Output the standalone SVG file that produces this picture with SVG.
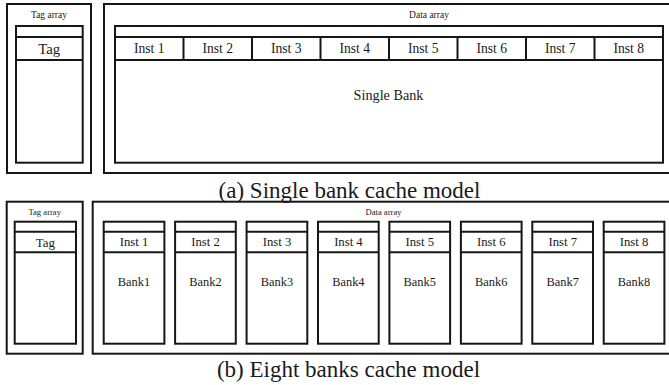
<svg xmlns="http://www.w3.org/2000/svg" width="669" height="385" viewBox="0 0 669 385" font-family="Liberation Serif">
  <style>
    rect, line { fill: none; stroke: #161616; stroke-width: 2; }
    rect.bg { fill: #fff; stroke: none; }
    text { fill: #1a1a1a; text-anchor: middle; }
  </style>
  <rect class="bg" x="0" y="0" width="669" height="385"/>

  <!-- (a) single bank model -->
  <g id="tag-array-a">
    <rect x="7" y="4" width="84" height="169"/>
    <text x="49" y="18" font-size="9.5">Tag array</text>
    <rect x="16" y="26" width="66.7" height="136.7"/>
    <line x1="16" y1="37" x2="82.7" y2="37"/>
    <line x1="16" y1="60" x2="82.7" y2="60"/>
    <text x="49.3" y="53.5" font-size="14.8">Tag</text>
  </g>
  <g id="data-array-a">
    <rect x="104" y="4" width="570" height="169"/>
    <text x="429" y="18" font-size="9.5">Data array</text>
    <rect x="115" y="26" width="548" height="136.7"/>
    <line x1="115" y1="37" x2="663" y2="37"/>
    <line x1="115" y1="60" x2="663" y2="60"/>
    <line x1="183.5" y1="37" x2="183.5" y2="60"/>
    <line x1="252" y1="37" x2="252" y2="60"/>
    <line x1="320.5" y1="37" x2="320.5" y2="60"/>
    <line x1="389" y1="37" x2="389" y2="60"/>
    <line x1="457.5" y1="37" x2="457.5" y2="60"/>
    <line x1="526" y1="37" x2="526" y2="60"/>
    <line x1="594.5" y1="37" x2="594.5" y2="60"/>
    <g font-size="13.6">
      <text x="149.3" y="53.2">Inst 1</text>
      <text x="217.8" y="53.2">Inst 2</text>
      <text x="286.3" y="53.2">Inst 3</text>
      <text x="354.8" y="53.2">Inst 4</text>
      <text x="423.3" y="53.2">Inst 5</text>
      <text x="491.8" y="53.2">Inst 6</text>
      <text x="560.3" y="53.2">Inst 7</text>
      <text x="628.8" y="53.2">Inst 8</text>
    </g>
    <text x="388.5" y="99.5" font-size="14.2">Single Bank</text>
  </g>
  <text x="349.5" y="197.5" font-size="23">(a) Single bank cache model</text>

  <!-- (b) eight bank model -->
  <g id="tag-array-b">
    <rect x="6.7" y="201.7" width="76" height="152"/>
    <text x="44.7" y="215" font-size="8.6">Tag array</text>
    <rect x="14.7" y="221.7" width="61.3" height="122"/>
    <line x1="14.7" y1="231.7" x2="76" y2="231.7"/>
    <line x1="14.7" y1="252.3" x2="76" y2="252.3"/>
    <text x="45.3" y="246.5" font-size="13">Tag</text>
  </g>
  <g id="data-array-b">
    <rect x="92.7" y="201.7" width="580" height="152"/>
    <text x="383.5" y="215" font-size="8.6">Data array</text>
  </g>
  <g id="bank1">
    <rect x="103.7" y="221.7" width="60.7" height="122"/>
    <line x1="103.7" y1="231.7" x2="164.4" y2="231.7"/>
    <line x1="103.7" y1="252.3" x2="164.4" y2="252.3"/>
    <text x="134" y="246.3" font-size="12.7">Inst 1</text>
    <text x="134" y="286.3" font-size="12.4">Bank1</text>
  </g>
  <g id="bank2">
    <rect x="175.1" y="221.7" width="60.7" height="122"/>
    <line x1="175.1" y1="231.7" x2="235.8" y2="231.7"/>
    <line x1="175.1" y1="252.3" x2="235.8" y2="252.3"/>
    <text x="205.5" y="246.3" font-size="12.7">Inst 2</text>
    <text x="205.5" y="286.3" font-size="12.4">Bank2</text>
  </g>
  <g id="bank3">
    <rect x="246.6" y="221.7" width="60.7" height="122"/>
    <line x1="246.6" y1="231.7" x2="307.3" y2="231.7"/>
    <line x1="246.6" y1="252.3" x2="307.3" y2="252.3"/>
    <text x="277" y="246.3" font-size="12.7">Inst 3</text>
    <text x="277" y="286.3" font-size="12.4">Bank3</text>
  </g>
  <g id="bank4">
    <rect x="318" y="221.7" width="60.7" height="122"/>
    <line x1="318" y1="231.7" x2="378.7" y2="231.7"/>
    <line x1="318" y1="252.3" x2="378.7" y2="252.3"/>
    <text x="348.4" y="246.3" font-size="12.7">Inst 4</text>
    <text x="348.4" y="286.3" font-size="12.4">Bank4</text>
  </g>
  <g id="bank5">
    <rect x="389.4" y="221.7" width="60.7" height="122"/>
    <line x1="389.4" y1="231.7" x2="450.1" y2="231.7"/>
    <line x1="389.4" y1="252.3" x2="450.1" y2="252.3"/>
    <text x="419.8" y="246.3" font-size="12.7">Inst 5</text>
    <text x="419.8" y="286.3" font-size="12.4">Bank5</text>
  </g>
  <g id="bank6">
    <rect x="460.9" y="221.7" width="60.7" height="122"/>
    <line x1="460.9" y1="231.7" x2="521.6" y2="231.7"/>
    <line x1="460.9" y1="252.3" x2="521.6" y2="252.3"/>
    <text x="491.2" y="246.3" font-size="12.7">Inst 6</text>
    <text x="491.2" y="286.3" font-size="12.4">Bank6</text>
  </g>
  <g id="bank7">
    <rect x="532.3" y="221.7" width="60.7" height="122"/>
    <line x1="532.3" y1="231.7" x2="593" y2="231.7"/>
    <line x1="532.3" y1="252.3" x2="593" y2="252.3"/>
    <text x="562.7" y="246.3" font-size="12.7">Inst 7</text>
    <text x="562.7" y="286.3" font-size="12.4">Bank7</text>
  </g>
  <g id="bank8">
    <rect x="603.7" y="221.7" width="60.7" height="122"/>
    <line x1="603.7" y1="231.7" x2="664.4" y2="231.7"/>
    <line x1="603.7" y1="252.3" x2="664.4" y2="252.3"/>
    <text x="634" y="246.3" font-size="12.7">Inst 8</text>
    <text x="634" y="286.3" font-size="12.4">Bank8</text>
  </g>
  <text x="348.5" y="376.5" font-size="23">(b) Eight banks cache model</text>

  <!-- no connectors in this figure -->
  <g id="connectors"/>
</svg>
